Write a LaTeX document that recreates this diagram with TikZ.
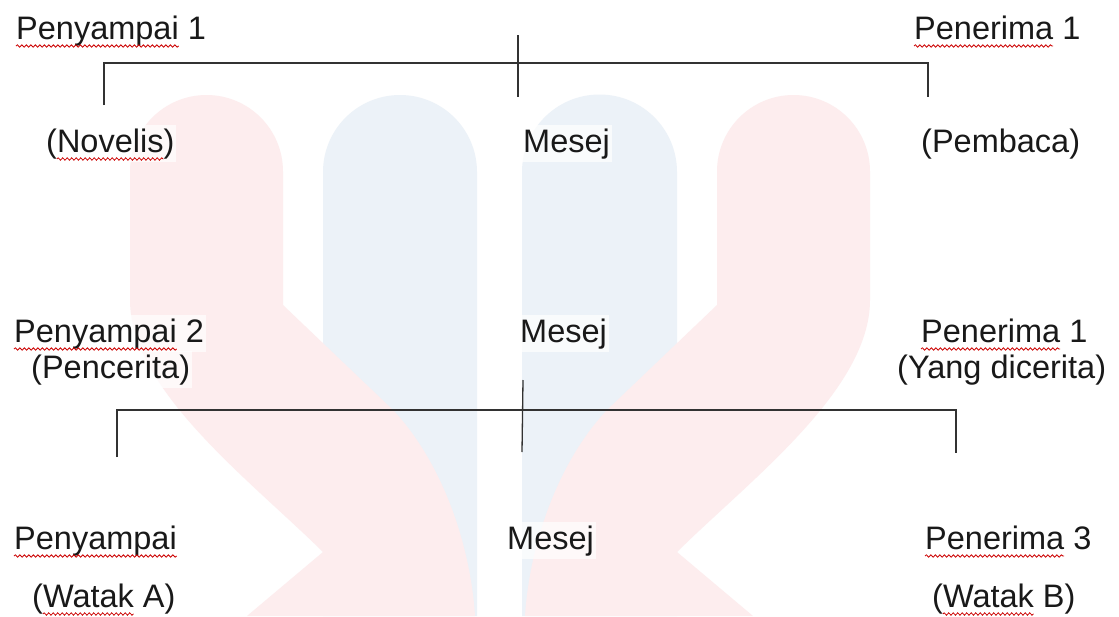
\documentclass[tikz,border=0pt]{standalone}
\usepackage{fontspec}
\setmainfont{Liberation Sans}
\usetikzlibrary{decorations.pathmorphing}
\definecolor{wmpink}{RGB}{253,237,238}
\definecolor{wmblue}{RGB}{236,242,248}
\definecolor{ink}{RGB}{25,25,25}
\definecolor{linec}{RGB}{50,50,50}
\newcommand\fsz{\fontsize{32.5}{39}\selectfont}
\newlength\wPy
\newlength\wPe
\newlength\wOp
\newlength\wNov
\newlength\wWat
\tikzset{
  lbl/.style={anchor=base west, inner xsep=2pt, inner ysep=3pt, fill=white, fill opacity=0.7, text opacity=1, text=ink, font=\fsz},
  bracket/.style={draw=linec, line width=1.7pt},
  tickline/.style={draw=linec, line width=1.3pt},
  wavy/.style={draw=red!80!black, line width=0.8pt, decorate, decoration={snake, amplitude=1.2pt, segment length=4.5pt}},
  wmp/.style={fill=wmpink, draw=none},
  wmb/.style={fill=wmblue, draw=none},
}
\begin{document}
\settowidth{\wPy}{\fsz Penyampai}%
\settowidth{\wPe}{\fsz Penerima}%
\settowidth{\wOp}{\fsz (}%
\settowidth{\wNov}{\fsz Novelis}%
\settowidth{\wWat}{\fsz Watak}%
\begin{tikzpicture}[x=1pt,y=-1pt]
\useasboundingbox (0,0) rectangle (1119,616);
\fill[white] (0,0) rectangle (1119,616);
% watermark: blue pills
\path[wmb] (323,616) -- (323,172) arc (180:360:77) -- (477,616) -- cycle;
\path[wmb] (522,616) -- (522,172) arc (180:360:77.5) -- (677,616) -- cycle;
% watermark: pink arms
\path[wmp] (247,616) -- (323,552) .. controls (250,480) and (130,390) .. (130,300)
  -- (130,171.5) arc (180:360:76.5) -- (283,305) -- (393,410)
  .. controls (440,460) and (470,540) .. (475,616) -- cycle;
\begin{scope}[xshift=1000pt, xscale=-1]
\path[wmp] (247,616) -- (323,552) .. controls (250,480) and (130,390) .. (130,300)
  -- (130,171.5) arc (180:360:76.5) -- (283,305) -- (393,410)
  .. controls (440,460) and (470,540) .. (475,616) -- cycle;
\end{scope}
% texts
\node[lbl] (n1)   at (14,39)  {Penyampai 1};
\node[lbl] (r1)   at (912,39) {Penerima 1};
\node[lbl] (nov)  at (44,152) {(Novelis)};
\node[lbl] (mes1) at (521,152) {Mesej};
\node[lbl] (pem)  at (919,152) {(Pembaca)};
\node[lbl] (n2)   at (12,342) {Penyampai 2};
\node[lbl] (mes2) at (518,342) {Mesej};
\node[lbl] (r2)   at (919,342) {Penerima 1};
\node[lbl] (pen)  at (29,378) {(Pencerita)};
\node[lbl] (yang) at (895,378) {(Yang dicerita)};
\node[lbl] (n3)   at (12,549) {Penyampai};
\node[lbl] (mes3) at (505,549) {Mesej};
\node[lbl] (r3)   at (923,549) {Penerima 3};
\node[lbl] (wa)   at (30,607) {(Watak A)};
\node[lbl] (wb)   at (930,607) {(Watak B)};
% spelling marks
\draw[wavy] ([xshift=2pt,yshift=-7pt]n1.base west) -- ++(\wPy,0);
\draw[wavy] ([xshift=2pt,yshift=-7pt]n2.base west) -- ++(\wPy,0);
\draw[wavy] ([xshift=2pt,yshift=-7pt]n3.base west) -- ++(\wPy,0);
\draw[wavy] ([xshift=2pt,yshift=-7pt]r1.base west) -- ++(\wPe,0);
\draw[wavy] ([xshift=2pt,yshift=-7pt]r2.base west) -- ++(\wPe,0);
\draw[wavy] ([xshift=2pt,yshift=-7pt]r3.base west) -- ++(\wPe,0);
\draw[wavy] ([xshift=2pt,yshift=-7pt]nov.base west) ++(\wOp,0) -- ++(\wNov,0);
\draw[wavy] ([xshift=2pt,yshift=-7pt]wa.base west) ++(\wOp,0) -- ++(\wWat,0);
\draw[wavy] ([xshift=2pt,yshift=-7pt]wb.base west) ++(\wOp,0) -- ++(\wWat,0);
% top bracket
\coordinate (tL) at (104,63);
\coordinate (tR) at (928,63);
\coordinate (tLd) at (104,105);
\coordinate (tRd) at (928,97);
\coordinate (tCu) at (518,35);
\coordinate (tCd) at (518,97);
\draw[bracket] (tLd) -- (tL) -- (tR) -- (tRd);
\draw[tickline] (tCu) -- (tCd);
% bottom bracket
\coordinate (bL) at (117,410);
\coordinate (bR) at (956,410);
\coordinate (bLd) at (117,457);
\coordinate (bRd) at (956,453);
\coordinate (bCu) at (523,380);
\coordinate (bCd) at (522,452);
\draw[bracket] (bLd) -- (bL) -- (bR) -- (bRd);
\draw[tickline] (bCu) -- (bCd);
\end{tikzpicture}
\end{document}
